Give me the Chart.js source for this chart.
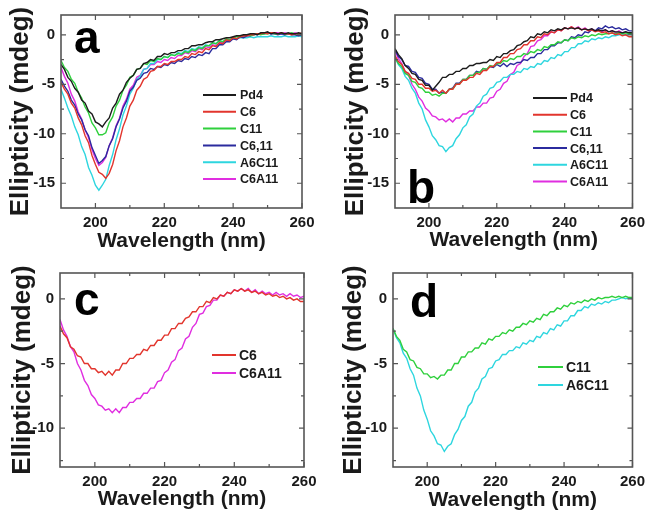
<!DOCTYPE html>
<html>
<head>
<meta charset="utf-8">
<script src="https://cdn.jsdelivr.net/npm/chart.js@4.4.1/dist/chart.umd.min.js"></script>
<style>
  html, body { margin: 0; padding: 0; background: #fff; }
  #wrap { position: relative; width: 651px; height: 512px; overflow: hidden; }
  canvas { position: absolute; }
</style>
</head>
<body>
<div id="wrap">
  <canvas id="panelA" width="325" height="256" style="left:0;top:0;width:325px;height:256px"></canvas>
  <canvas id="panelB" width="326" height="256" style="left:325px;top:0;width:326px;height:256px"></canvas>
  <canvas id="panelC" width="325" height="256" style="left:0;top:256px;width:325px;height:256px"></canvas>
  <canvas id="panelD" width="326" height="256" style="left:325px;top:256px;width:326px;height:256px"></canvas>
</div>
<script>
// wavelength grid (nm), shared by every spectrum
const wavelength = [
  190,191,192,193,194,195,196,197,198,199,
  200,201,202,203,204,205,206,207,208,209,
  210,211,212,213,214,215,216,217,218,219,
  220,221,222,223,224,225,226,227,228,229,
  230,231,232,233,234,235,236,237,238,239,
  240,241,242,243,244,245,246,247,248,249,
  250,251,252,253,254,255,256,257,258,259,260
];

// panel a spectra (mdeg)
const aPd4 = [
  -3.0,-3.5,-4.3,-4.7,-5.4,-5.8,-6.6,-6.9,-7.7,-8.0,
  -8.8,-9.0,-9.3,-8.8,-8.4,-7.4,-6.9,-6.0,-5.6,-4.8,
  -4.4,-4.1,-3.5,-3.4,-2.9,-2.8,-2.5,-2.6,-2.2,-2.2,
  -1.9,-2.0,-1.8,-1.8,-1.6,-1.6,-1.4,-1.4,-1.1,-1.1,
  -1.0,-1.0,-0.8,-0.7,-0.7,-0.5,-0.5,-0.4,-0.3,-0.3,
  -0.2,-0.1,-0.1,0.0,0.0,0.1,0.1,0.0,0.2,0.2,
  0.3,0.1,0.2,0.1,0.2,0.1,0.2,0.1,0.1,0.2,0.1
];
const aC6 = [
  -4.8,-5.5,-6.0,-6.9,-7.4,-8.4,-9.1,-10.2,-10.9,-12.2,
  -13.1,-13.9,-14.1,-14.5,-14.0,-13.1,-11.7,-10.7,-9.3,-8.4,
  -7.2,-6.6,-5.6,-5.2,-4.5,-4.3,-3.7,-3.6,-3.2,-3.2,
  -2.9,-3.0,-2.7,-2.7,-2.5,-2.5,-2.2,-2.3,-1.9,-2.0,
  -1.7,-1.8,-1.4,-1.5,-1.1,-1.2,-0.8,-0.9,-0.5,-0.6,
  -0.3,-0.4,-0.2,-0.1,-0.1,0.0,0.0,0.1,0.1,0.2,
  0.1,0.2,0.2,0.1,0.2,0.1,0.1,0.0,0.1,0.1,0.2
];
const aC11 = [
  -2.6,-3.3,-3.7,-4.5,-4.9,-5.8,-6.4,-7.3,-7.9,-8.9,
  -9.4,-10.1,-10.1,-9.9,-8.9,-8.3,-7.2,-6.6,-5.6,-5.1,
  -4.3,-4.1,-3.5,-3.4,-2.9,-3.0,-2.6,-2.7,-2.4,-2.5,
  -2.2,-2.3,-2.0,-2.1,-1.9,-2.0,-1.7,-1.8,-1.5,-1.6,
  -1.3,-1.4,-1.1,-1.1,-0.8,-0.9,-0.6,-0.7,-0.4,-0.5,
  -0.3,-0.2,-0.2,-0.1,0.0,-0.1,0.0,0.1,0.0,0.1,
  0.1,0.2,0.1,0.1,0.2,0.1,0.1,0.2,0.1,0.1,0.1
];
const aC611 = [
  -4.5,-5.2,-5.7,-6.6,-7.1,-8.0,-8.6,-9.6,-10.2,-11.4,
  -12.2,-13.0,-12.7,-12.3,-11.2,-10.5,-9.3,-8.5,-7.4,-6.7,
  -5.7,-5.3,-4.6,-4.4,-3.9,-3.8,-3.4,-3.5,-3.2,-3.3,
  -3.0,-3.1,-2.8,-2.9,-2.6,-2.7,-2.4,-2.5,-2.2,-2.3,
  -2.0,-2.1,-1.8,-1.9,-1.4,-1.4,-1.0,-1.0,-0.7,-0.7,
  -0.4,-0.5,-0.2,-0.3,-0.1,-0.1,0.1,0.0,0.1,0.1,
  0.2,0.1,0.1,0.0,0.1,0.0,0.1,0.0,0.0,-0.1,0.0
];
const aA6C11 = [
  -5.5,-6.4,-7.4,-8.2,-9.3,-10.1,-11.3,-12.1,-13.4,-14.2,
  -15.2,-15.7,-15.2,-14.6,-13.2,-12.1,-10.6,-9.5,-8.1,-7.2,
  -6.0,-5.4,-4.5,-4.2,-3.5,-3.4,-2.9,-2.9,-2.5,-2.5,
  -2.2,-2.3,-2.0,-2.1,-1.8,-1.9,-1.6,-1.7,-1.4,-1.5,
  -1.2,-1.3,-1.0,-1.1,-0.8,-0.9,-0.6,-0.7,-0.5,-0.5,
  -0.4,-0.4,-0.3,-0.3,-0.3,-0.2,-0.3,-0.2,-0.2,-0.2,
  -0.2,-0.1,-0.2,-0.2,-0.2,-0.1,-0.2,-0.2,-0.2,-0.1,-0.2
];
const aC6A11 = [
  -3.3,-4.2,-4.9,-6.0,-6.7,-7.8,-8.5,-9.6,-10.4,-11.6,
  -12.5,-13.2,-12.9,-12.4,-11.2,-10.4,-9.2,-8.4,-7.2,-6.5,
  -5.5,-5.1,-4.3,-4.1,-3.5,-3.4,-3.0,-3.0,-2.7,-2.8,
  -2.5,-2.6,-2.3,-2.4,-2.1,-2.1,-1.8,-1.9,-1.6,-1.7,
  -1.4,-1.5,-1.2,-1.3,-1.0,-1.1,-0.8,-0.8,-0.5,-0.6,
  -0.3,-0.4,-0.2,-0.2,-0.1,0.0,0.0,0.1,0.1,0.2,
  0.2,0.1,0.2,0.2,0.1,0.2,0.1,0.1,0.2,0.1,0.1
];

// panel b spectra (mdeg); c and d replot some of these
const bPd4 = [
  -1.4,-2.0,-2.4,-3.1,-3.4,-3.9,-4.0,-4.5,-4.6,-5.1,
  -5.1,-5.6,-5.2,-4.8,-4.3,-4.3,-4.0,-4.0,-3.7,-3.7,
  -3.4,-3.4,-3.1,-3.1,-2.9,-2.9,-2.8,-2.8,-2.5,-2.6,
  -2.2,-2.3,-1.9,-1.9,-1.6,-1.5,-1.1,-1.0,-0.7,-0.6,
  -0.2,-0.3,0.1,0.0,0.3,0.2,0.5,0.4,0.6,0.5,
  0.7,0.6,0.7,0.6,0.7,0.5,0.6,0.5,0.6,0.4,
  0.5,0.4,0.5,0.3,0.4,0.3,0.3,0.2,0.3,0.2,0.2
];
const bC6 = [
  -2.1,-2.7,-3.0,-3.7,-3.9,-4.4,-4.5,-5.0,-5.0,-5.4,
  -5.4,-5.7,-5.6,-5.9,-5.6,-5.9,-5.5,-5.5,-5.0,-5.0,
  -4.6,-4.6,-4.3,-4.3,-3.9,-4.0,-3.6,-3.6,-3.2,-3.2,
  -2.8,-2.8,-2.3,-2.3,-1.9,-1.9,-1.5,-1.4,-1.0,-1.0,
  -0.6,-0.6,-0.2,-0.3,0.1,0.0,0.3,0.2,0.5,0.4,
  0.7,0.6,0.8,0.6,0.7,0.5,0.6,0.4,0.5,0.3,
  0.4,0.2,0.3,0.1,0.2,0.0,0.1,-0.1,0.0,-0.2,-0.2
];
const bC11 = [
  -2.3,-2.9,-3.2,-3.9,-4.1,-4.7,-4.8,-5.3,-5.4,-5.8,
  -5.8,-6.1,-6.0,-6.2,-5.9,-5.9,-5.5,-5.5,-5.0,-5.0,
  -4.5,-4.5,-4.1,-4.1,-3.8,-3.8,-3.4,-3.5,-3.1,-3.2,
  -2.9,-2.9,-2.6,-2.7,-2.4,-2.5,-2.2,-2.2,-1.9,-2.0,
  -1.7,-1.8,-1.5,-1.6,-1.2,-1.3,-1.0,-1.0,-0.7,-0.8,
  -0.5,-0.6,-0.3,-0.4,-0.2,-0.3,-0.1,-0.2,0.0,-0.1,
  0.1,0.0,0.1,0.1,0.2,0.1,0.2,0.1,0.2,0.1,0.1
];
const bC611 = [
  -1.5,-2.2,-2.5,-3.1,-3.2,-3.7,-3.8,-4.3,-4.4,-4.9,
  -5.0,-5.5,-5.5,-5.9,-5.8,-5.9,-5.5,-5.4,-4.9,-4.9,
  -4.5,-4.5,-4.1,-4.1,-3.7,-3.8,-3.4,-3.5,-3.2,-3.3,
  -3.0,-3.2,-2.9,-3.2,-2.9,-3.0,-2.8,-2.8,-2.5,-2.6,
  -2.3,-2.3,-1.9,-1.9,-1.5,-1.5,-1.1,-1.1,-0.8,-0.8,
  -0.5,-0.6,-0.2,-0.3,0.0,-0.1,0.3,0.2,0.5,0.4,
  0.7,0.6,0.9,0.7,0.8,0.6,0.7,0.5,0.6,0.4,0.4
];
const bA6C11 = [
  -2.3,-3.0,-3.4,-4.2,-4.6,-5.4,-5.9,-6.9,-7.5,-8.6,
  -9.3,-10.2,-10.6,-11.2,-11.3,-11.8,-11.4,-11.2,-10.5,-10.1,
  -9.4,-9.1,-8.3,-8.0,-7.2,-6.9,-6.2,-6.0,-5.4,-5.3,
  -4.8,-4.7,-4.3,-4.3,-4.0,-4.0,-3.7,-3.8,-3.4,-3.5,
  -3.2,-3.3,-2.9,-3.0,-2.6,-2.7,-2.3,-2.4,-2.0,-2.1,
  -1.7,-1.7,-1.3,-1.3,-0.9,-0.9,-0.6,-0.7,-0.4,-0.5,
  -0.3,-0.4,-0.2,-0.3,-0.1,-0.1,0.0,0.1,0.0,0.1,0.0
];
const bC6A11 = [
  -1.6,-2.4,-2.9,-3.7,-4.1,-5.0,-5.5,-6.3,-6.7,-7.4,
  -7.7,-8.2,-8.3,-8.6,-8.5,-8.8,-8.5,-8.8,-8.4,-8.4,
  -8.0,-8.0,-7.7,-7.7,-7.3,-7.3,-6.9,-6.9,-6.4,-6.3,
  -5.7,-5.5,-4.9,-4.7,-4.0,-3.8,-3.1,-2.9,-2.2,-1.9,
  -1.2,-1.1,-0.6,-0.5,-0.1,-0.1,0.3,0.2,0.5,0.4,
  0.7,0.6,0.8,0.6,0.8,0.5,0.7,0.4,0.6,0.4,
  0.5,0.3,0.5,0.3,0.4,0.2,0.4,0.2,0.3,0.1,0.2
];

// axis ticks
const xLabelTicks = [200, 220, 240, 260];
const xMinorTicks = [210, 230, 250];
const yLabelTicks = [-15, -10, -5, 0];
const yMinorTicks = [-12.5, -7.5, -2.5];

const colors = {
  Pd4: "#1c1c1c",
  C6: "#e2352d",
  C11: "#2fd03c",
  C611: "#2b2b9e",
  A6C11: "#2ed6df",
  C6A11: "#e02ee0"
};

const FONT = "'Liberation Sans', Arial, sans-serif";
const INK = "#1a1a1a";

// frame with inward ticks, inset legend and panel letter
const panelDecor = {
  id: "panelDecor",
  afterDatasetsDraw(chart, args, opts) {
    const { ctx, chartArea: a, scales: { x, y } } = chart;
    ctx.save();
    ctx.strokeStyle = "#555";
    ctx.lineWidth = 1.2;
    const tick = (v, len, horiz) => {
      ctx.beginPath();
      if (horiz) {
        const px = x.getPixelForValue(v);
        ctx.moveTo(px, a.bottom); ctx.lineTo(px, a.bottom - len);
        ctx.moveTo(px, a.top); ctx.lineTo(px, a.top + len);
      } else {
        const py = y.getPixelForValue(v);
        ctx.moveTo(a.left, py); ctx.lineTo(a.left + len, py);
        ctx.moveTo(a.right, py); ctx.lineTo(a.right - len, py);
      }
      ctx.stroke();
    };
    xLabelTicks.forEach(v => tick(v, 5, true));
    xMinorTicks.forEach(v => tick(v, 3, true));
    yLabelTicks.filter(v => v >= y.min).forEach(v => tick(v, 5, false));
    yMinorTicks.filter(v => v >= y.min).forEach(v => tick(v, 3, false));
    ctx.lineWidth = 1.6;
    ctx.strokeRect(a.left, a.top, a.right - a.left, a.bottom - a.top);

    // legend
    const lg = opts.legend;
    ctx.font = `bold ${lg.size}px ${FONT}`;
    ctx.textBaseline = "middle";
    ctx.textAlign = "left";
    chart.data.datasets.forEach((ds, i) => {
      const ly = lg.y + i * lg.row;
      ctx.strokeStyle = ds.borderColor;
      ctx.lineWidth = 2;
      ctx.beginPath();
      ctx.moveTo(lg.x0, ly); ctx.lineTo(lg.x1, ly);
      ctx.stroke();
      ctx.fillStyle = INK;
      ctx.fillText(ds.label, lg.tx, ly + 1);
    });

    // panel letter
    ctx.font = `bold 46px ${FONT}`;
    ctx.textBaseline = "alphabetic";
    ctx.fillStyle = "#000";
    ctx.fillText(opts.letter.text, opts.letter.x, opts.letter.y);
    ctx.restore();
  }
};

function buildPanel(id, cfg) {
  const ctx = document.getElementById(id).getContext("2d");
  return new Chart(ctx, {
    type: "line",
    data: {
      datasets: cfg.series.map(s => ({
        label: s.label,
        data: wavelength.map((w, i) => ({ x: w, y: s.values[i] })),
        borderColor: s.color,
        borderWidth: 1.4,
        pointRadius: 0,
        tension: 0,
        fill: false
      }))
    },
    options: {
      responsive: false,
      animation: false,
      devicePixelRatio: 1,
      layout: { padding: { left: 0, top: cfg.area.top, right: cfg.width - cfg.area.right, bottom: 0 } },
      plugins: {
        legend: { display: false },
        tooltip: { enabled: false },
        panelDecor: { legend: cfg.legend, letter: cfg.letter }
      },
      scales: {
        x: {
          type: "linear",
          min: 190,
          max: 260,
          afterBuildTicks: s => { s.ticks = xLabelTicks.map(v => ({ value: v })); },
          afterFit: s => { s.height = cfg.height - cfg.area.bottom; },
          grid: { display: false, drawTicks: false },
          border: { display: false },
          ticks: {
            font: { family: FONT, size: 15, weight: "bold" },
            color: INK, padding: 6, maxRotation: 0, autoSkip: false,
            callback: v => String(v)
          },
          title: {
            display: true, text: "Wavelength (nm)", color: INK,
            font: { family: FONT, size: 21, weight: "bold", lineHeight: 1 },
            padding: { top: 0, bottom: cfg.xTitlePad }
          }
        },
        y: {
          type: "linear",
          min: cfg.yMin,
          max: 2,
          afterBuildTicks: s => { s.ticks = yLabelTicks.filter(v => v >= cfg.yMin).map(v => ({ value: v })); },
          afterFit: s => { s.width = cfg.area.left; },
          grid: { display: false, drawTicks: false },
          border: { display: false },
          ticks: {
            font: { family: FONT, size: 15, weight: "bold" },
            color: INK, padding: 6, autoSkip: false,
            callback: v => String(v)
          },
          title: {
            display: true, text: "Ellipticity (mdeg)", color: INK,
            font: { family: FONT, size: 26, weight: "bold", lineHeight: 1 },
            padding: { top: cfg.yTitlePad, bottom: 0 }
          }
        }
      }
    },
    plugins: [panelDecor]
  });
}

buildPanel("panelA", {
  width: 325, height: 256,
  area: { left: 61, top: 13, right: 302, bottom: 208 },
  yMin: -17.5, xTitlePad: 4, yTitlePad: 8,
  letter: { text: "a", x: 74, y: 53 },
  legend: { x0: 203, x1: 236, tx: 240, y: 95, row: 16.8, size: 12.5 },
  series: [
    { label: "Pd4", values: aPd4, color: colors.Pd4 },
    { label: "C6", values: aC6, color: colors.C6 },
    { label: "C11", values: aC11, color: colors.C11 },
    { label: "C6,11", values: aC611, color: colors.C611 },
    { label: "A6C11", values: aA6C11, color: colors.A6C11 },
    { label: "C6A11", values: aC6A11, color: colors.C6A11 }
  ]
});

buildPanel("panelB", {
  width: 326, height: 256,
  area: { left: 70, top: 13, right: 311, bottom: 208 },
  yMin: -17.5, xTitlePad: 5, yTitlePad: 18,
  letter: { text: "b", x: 82, y: 203 },
  legend: { x0: 208, x1: 242, tx: 245, y: 98, row: 16.7, size: 12.5 },
  series: [
    { label: "Pd4", values: bPd4, color: colors.Pd4 },
    { label: "C6", values: bC6, color: colors.C6 },
    { label: "C11", values: bC11, color: colors.C11 },
    { label: "C6,11", values: bC611, color: colors.C611 },
    { label: "A6C11", values: bA6C11, color: colors.A6C11 },
    { label: "C6A11", values: bC6A11, color: colors.C6A11 }
  ]
});

buildPanel("panelC", {
  width: 325, height: 256,
  area: { left: 60, top: 17, right: 304, bottom: 211 },
  yMin: -13, xTitlePad: 2, yTitlePad: 10,
  letter: { text: "c", x: 74, y: 59 },
  legend: { x0: 212, x1: 236, tx: 239, y: 99, row: 18, size: 14 },
  series: [
    { label: "C6", values: bC6, color: colors.C6 },
    { label: "C6A11", values: bC6A11, color: colors.C6A11 }
  ]
});

buildPanel("panelD", {
  width: 326, height: 256,
  area: { left: 68, top: 17, right: 312, bottom: 211 },
  yMin: -13, xTitlePad: 1, yTitlePad: 16,
  letter: { text: "d", x: 85, y: 61 },
  legend: { x0: 213, x1: 238, tx: 241, y: 111, row: 18, size: 14 },
  series: [
    { label: "C11", values: bC11, color: colors.C11 },
    { label: "A6C11", values: bA6C11, color: colors.A6C11 }
  ]
});
</script>
</body>
</html>
